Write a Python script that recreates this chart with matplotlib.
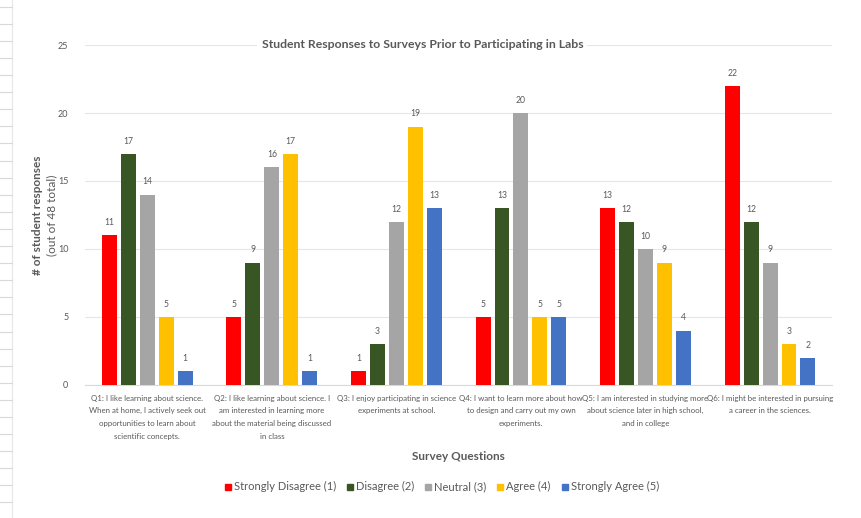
import numpy as np
import matplotlib
matplotlib.use("Agg")
import matplotlib.pyplot as plt
from matplotlib.lines import Line2D

plt.rcParams['font.family'] = ['Lato', 'DejaVu Sans']

questions = [
    "Q1: I like learning about science.\nWhen at home, I actively seek out\nopportunities to learn about\nscientific concepts.",
    "Q2: I like learning about science. I\nam interested in learning more\nabout the material being discussed\nin class",
    "Q3: I enjoy participating in science\nexperiments at school.",
    "Q4: I want to learn more about how\nto design and carry out my own\nexperiments.",
    "Q5: I am interested in studying more\nabout science later in high school,\nand in college",
    "Q6: I might be interested in pursuing\na career in the sciences.",
]
series_names = ["Strongly Disagree (1)", "Disagree (2)", "Neutral (3)",
                "Agree (4)", "Strongly Agree (5)"]
strongly_disagree = [11, 5, 1, 5, 13, 22]
disagree = [17, 9, 3, 13, 12, 12]
neutral = [14, 16, 12, 20, 10, 9]
agree = [5, 17, 19, 5, 9, 3]
strongly_agree = [1, 1, 13, 5, 4, 2]
colors = ["#FF0000", "#375623", "#A5A5A5", "#FFC000", "#4472C4"]

txt = "#595959"
fig = plt.figure(figsize=(8.62, 5.18), dpi=100)
ax = fig.add_axes([0.0986, 0.257, 0.867, 0.656])

x = np.arange(len(questions))
step = 0.152
width = 0.12
all_series = [strongly_disagree, disagree, neutral, agree, strongly_agree]
for i, (vals, name, c) in enumerate(zip(all_series, series_names, colors)):
    pos = x + (i - 2) * step
    ax.bar(pos, vals, width, color=c, label=name, zorder=3)
    for p, v in zip(pos, vals):
        ax.text(p, v + 0.6, str(v), ha='center', va='bottom', fontsize=6.2, color=txt)

ax.set_xlim(-0.5, len(questions) - 0.5)
ax.set_ylim(0, 25)
ax.set_yticks([0, 5, 10, 15, 20, 25])
ax.yaxis.grid(True, color="#E6E6E6", linewidth=0.8, zorder=0)
for s in ['top', 'right', 'left']:
    ax.spines[s].set_visible(False)
ax.spines['bottom'].set_color("#D9D9D9")
ax.tick_params(axis='both', length=0, labelsize=6.5, colors=txt)
ax.tick_params(axis='y', pad=12)
ax.tick_params(axis='x', pad=7)
ax.set_xticks(x)
ax.set_xticklabels(questions, fontsize=5.7, color=txt, linespacing=1.95)

ax.set_xlabel("Survey Questions", fontsize=8.5, fontweight='bold', color=txt, labelpad=8)
fig.text(0.044, 0.585, "# of student responses", rotation=90, ha='center', va='center',
         fontsize=8.5, fontweight='bold', color=txt)
fig.text(0.060, 0.585, "(out of 48 total)", rotation=90, ha='center', va='center',
         fontsize=8.5, color=txt)

fig.text(0.49, 0.915, "Student Responses to Surveys Prior to Participating in Labs",
         ha='center', va='center', fontsize=8.8, fontweight='bold', color=txt,
         bbox=dict(facecolor='white', edgecolor='none', pad=3))

handles = [Line2D([], [], marker='s', linestyle='none', color=c, markersize=5)
           for c in colors]
fig.legend(handles, series_names, loc='center', bbox_to_anchor=(0.511, 0.06), ncol=5,
           frameon=False, fontsize=8, handletextpad=0.05, columnspacing=0.75,
           handlelength=1.0, labelcolor=txt)

# ruler marks along the left edge of the screenshot
fig.add_artist(Line2D([0.014, 0.014], [0, 1], color="#E6E6E6", linewidth=0.8))
for yy in np.arange(0.03, 1.0, 0.033):
    fig.add_artist(Line2D([0.0, 0.014], [yy, yy], color="#D9D9D9", linewidth=0.8))

fig.savefig("out.png", dpi=100)
